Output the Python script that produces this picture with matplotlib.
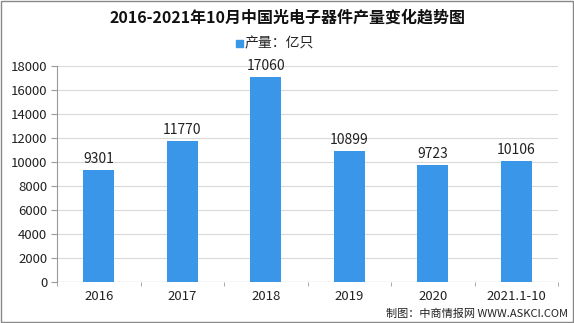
import numpy as np
import matplotlib.pyplot as plt
from matplotlib.patches import Rectangle

plt.rcParams['font.family'] = ['Noto Sans CJK SC', 'DejaVu Sans']

years = ['2016', '2017', '2018', '2019', '2020', '2021.1-10']
output = [9301, 11770, 17060, 10899, 9723, 10106]
yticks = [0, 2000, 4000, 6000, 8000, 10000, 12000, 14000, 16000, 18000]

bar_color = '#3A96E8'

fig = plt.figure(figsize=(5.74, 3.23), dpi=100)
ax = fig.add_axes([57/574, 1 - 282/323, (558 - 57)/574, (282 - 66)/323])

x = np.arange(len(years))
ax.bar(x, output, width=0.37, color=bar_color, zorder=3)
for xi, v in zip(x, output):
    ax.text(xi, v + 350, str(v), ha='center', va='bottom', fontsize=10, color='#222222')

ax.set_xlim(-0.5, len(years) - 0.5)
ax.set_ylim(0, 18000)
ax.set_yticks(yticks)
ax.set_yticklabels([str(t) for t in yticks], fontsize=9.5, color='#222222')
ax.set_xticks(x)
ax.set_xticklabels(years, fontsize=9.5, color='#222222')
ax.set_xticks(np.arange(-0.5, len(years)), minor=True)
ax.tick_params(axis='y', length=4, color='#999999', pad=3)
ax.tick_params(axis='x', which='major', length=0, pad=6)
ax.tick_params(axis='x', which='minor', length=3, color='#999999')
ax.yaxis.grid(True, color='#d9d9d9', linewidth=0.8, zorder=0)

for s in ['top', 'right', 'bottom']:
    ax.spines[s].set_visible(False)
ax.spines['left'].set_color('#999999')
ax.axhline(0, color='#999999', linewidth=0.8, zorder=4)

fig.text(0.5, 1 - 18/323, '2016-2021年10月中国光电子器件产量变化趋势图', ha='center', va='center',
         fontsize=11.5, fontweight='bold', color='#111111')
fig.patches.append(Rectangle((236/574, 1 - 47/323), 7/574, 7/323, transform=fig.transFigure,
                             color=bar_color, figure=fig))
fig.text(245/574, 1 - 43/323, '产量：亿只', ha='left', va='center', fontsize=10, color='#222222')

fig.text(0.99, 1 - 314/323, '制图：中商情报网 WWW.ASKCI.COM', ha='right', va='center', fontsize=8, color='#222222')

fig.patches.append(Rectangle((0.001, 0.002), 0.997, 0.995, transform=fig.transFigure,
                             fill=False, edgecolor='#888888', linewidth=1, figure=fig))

fig.savefig('out.png', dpi=100)
